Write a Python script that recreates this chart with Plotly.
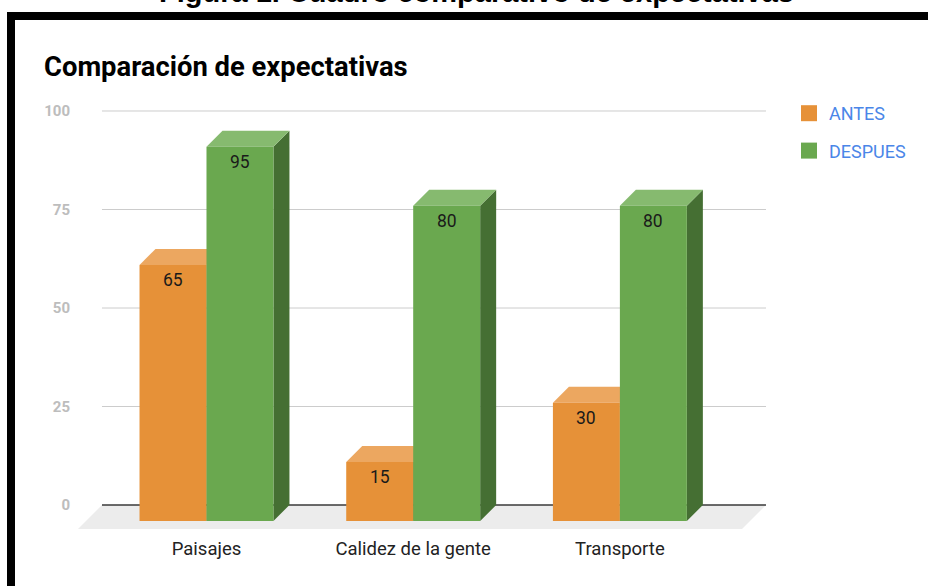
import plotly.graph_objects as go

# ---- data ----
categories = ["Paisajes", "Calidez de la gente", "Transporte"]
antes = [65, 15, 30]
despues = [95, 80, 80]
y_ticks = [0, 25, 50, 75, 100]
series_names = ["ANTES", "DESPUES"]

# ---- styling / layout constants ----
W, H = 928, 586
ML, MR, MT, MB = 76, 148, 100, 51
BAR_W = 0.324          # bar width in category units
DX, DY = 0.0774, 4.06  # 3D depth offset (x units, y units)
FLOOR_DX, FLOOR_DY = 0.1161, 6.09
PLANE_X0, PLANE_X1 = -0.5056, 2.7068
X_RANGE = [-0.6313, 2.7746]
Y_RANGE = [-7.614, 102.79]

colors = {
    "ANTES": {"front": "#e69138", "top": "#eca760", "side": "#b46e28"},
    "DESPUES": {"front": "#6aa84f", "top": "#86ba6f", "side": "#456f33"},
}

fig = go.Figure()


def poly(xs, ys, color):
    fig.add_trace(go.Scatter(
        x=xs, y=ys, mode="lines", fill="toself", fillcolor=color,
        line=dict(color=color, width=0),
        hoverinfo="skip", showlegend=False))


# floor
poly([PLANE_X0, PLANE_X1, PLANE_X1 - FLOOR_DX, PLANE_X0 - FLOOR_DX, PLANE_X0],
     [0, 0, -FLOOR_DY, -FLOOR_DY, 0], "#ececec")

# gridlines
for t in y_ticks:
    fig.add_trace(go.Scatter(
        x=[PLANE_X0, PLANE_X1], y=[t, t], mode="lines",
        line=dict(color="#3a3a3a" if t == 0 else "#cccccc", width=1.6 if t == 0 else 1),
        hoverinfo="skip", showlegend=False))

# 3D bars
for s_idx, (name, vals) in enumerate(zip(series_names, [antes, despues])):
    c = colors[name]
    for i, v in enumerate(vals):
        x0 = i - BAR_W + s_idx * BAR_W
        x1 = x0 + BAR_W
        # side face
        poly([x1, x1 + DX, x1 + DX, x1, x1], [-DY, 0, v, v - DY, -DY], c["side"])
        # top face
        poly([x0, x1, x1 + DX, x0 + DX, x0], [v - DY, v - DY, v, v, v - DY], c["top"])
        # front face
        poly([x0, x1, x1, x0, x0], [-DY, -DY, v - DY, v - DY, -DY], c["front"])
        fig.add_annotation(
            x=(x0 + x1) / 2, y=v - DY, xref="x", yref="y", text=str(v),
            showarrow=False, yanchor="top", yshift=-3,
            font=dict(family="Roboto", size=17.5, color="#1a1a1a"))

# legend entries
for name in series_names:
    fig.add_trace(go.Scatter(
        x=[None], y=[None], mode="markers", name=name, legendgroup=name,
        marker=dict(symbol="square", size=16, color=colors[name]["front"])))

PW, PH = W - ML - MR, H - MT - MB

fig.update_layout(
    width=W, height=H,
    margin=dict(l=ML, r=MR, t=MT, b=MB),
    paper_bgcolor="white", plot_bgcolor="white",
    title=dict(text="<b>Comparación de expectativas</b>", xref="container", yref="container",
               x=44 / W, xanchor="left", y=1 - 66 / H, yanchor="middle",
               font=dict(family="Roboto", size=27.4, color="#000000")),
    xaxis=dict(range=X_RANGE, tickvals=list(range(len(categories))), ticktext=categories,
               showgrid=False, zeroline=False, showline=False, ticks="",
               tickfont=dict(family="Roboto", size=18.5, color="#222222"), fixedrange=True),
    yaxis=dict(range=Y_RANGE, tickvals=y_ticks, showgrid=False, zeroline=False,
               showline=False, ticks="", ticklabelstandoff=5,
               tickfont=dict(family="Roboto", size=15, color="#bdbdbd", weight="bold"),
               fixedrange=True),
    legend=dict(x=(789 - ML) / PW, y=(PH - (95 - MT)) / PH, xanchor="left", yanchor="top",
                font=dict(family="Roboto", size=18, color="#4a86e8"),
                tracegroupgap=11, traceorder="grouped", bgcolor="rgba(0,0,0,0)"),
    showlegend=True,
)

# cut-off figure caption at the very top
fig.add_annotation(
    text="<b>Figura 1. Cuadro comparativo de expectativas</b>", xref="paper", yref="paper",
    x=(476 - ML) / PW, y=(H - MB - 10.5) / PH, xanchor="center", yanchor="bottom",
    showarrow=False, font=dict(family="Liberation Sans", size=29, color="#000000"))

# black frame border
fig.add_shape(type="rect", xref="paper", yref="paper",
              x0=(11 - ML) / PW, x1=(W + 20 - ML) / PW,
              y0=(H - MB - (H + 20)) / PH, y1=(H - MB - 16) / PH,
              line=dict(color="black", width=8), fillcolor="rgba(0,0,0,0)")

fig.write_html("out.html", config={"displayModeBar": False},
               post_script="document.body.style.margin='0';")
